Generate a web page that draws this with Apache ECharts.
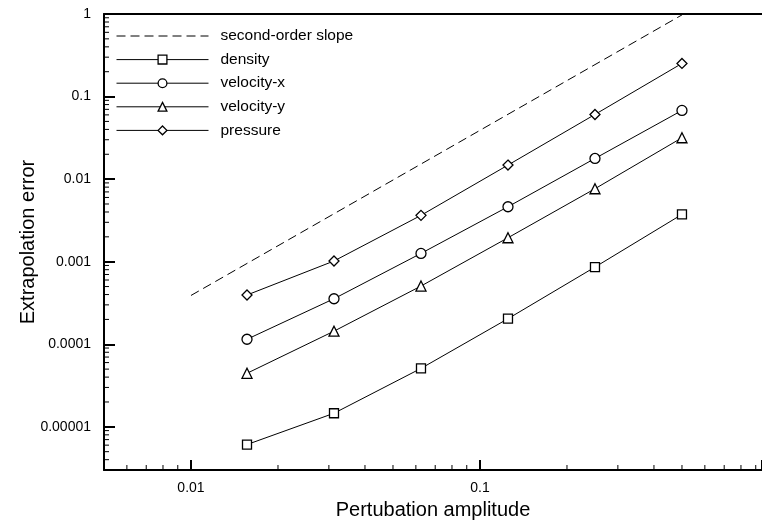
<!DOCTYPE html>
<html>
<head>
<meta charset="utf-8">
<script src="https://cdn.jsdelivr.net/npm/echarts@6/dist/echarts.min.js"></script>
<style>html,body{margin:0;padding:0;background:#fff;}#c{width:762px;height:524px;}</style>
</head>
<body>
<div id="c"></div>
<script>
// ---- data ----
var amplitudes = [0.015625, 0.03125, 0.0625, 0.125, 0.25, 0.5];
var density   = [6.1e-6, 1.46e-5, 5.1e-5, 2.04e-4, 8.6e-4, 3.74e-3];
var velocityX = [1.15e-4, 3.56e-4, 1.26e-3, 4.63e-3, 0.0178, 0.0679];
var velocityY = [4.45e-5, 1.44e-4, 5.07e-4, 1.95e-3, 7.65e-3, 0.0317];
var pressure  = [3.95e-4, 1.02e-3, 3.64e-3, 0.0148, 0.0607, 0.252];
var slopeX = [0.01, 0.5];
var slopeY = [0.00039, 0.975];
var xTickLabels = {'-2': '0.01', '-1': '0.1'};
var yTickLabels = {'-5': '0.00001', '-4': '0.0001', '-3': '0.001', '-2': '0.01', '-1': '0.1', '0': '1'};
var seriesNames = ['second-order slope', 'density', 'velocity-x', 'velocity-y', 'pressure'];

var X_MIN = 0.005, X_MAX = 0.946, Y_MIN = 3e-6, Y_MAX = 1;

function pairs(xs, ys) { return xs.map(function (x, i) { return [x, ys[i]]; }); }
function fmt(map) {
  return function (v) {
    var l = Math.log10(v), e = Math.round(l);
    if (Math.abs(l - e) > 1e-6) return '';
    return map[String(e)] || '';
  };
}
// minor tick positions (2..9 of each decade)
var xMinor = [], yMinor = [];
for (var e = -3; e <= 0; e++) for (var m = 2; m <= 9; m++) {
  var v = m * Math.pow(10, e);
  if (v > X_MIN && v < X_MAX) xMinor.push([v, Y_MIN]);
}
for (var e2 = -6; e2 <= 0; e2++) for (var m2 = 2; m2 <= 9; m2++) {
  var v2 = m2 * Math.pow(10, e2);
  if (v2 > Y_MIN && v2 < Y_MAX) yMinor.push([X_MIN, v2]);
}

var FONT = 'Liberation Sans, Arial, Helvetica, sans-serif';
var mk = function (name, data, symbol, size) {
  return {
    name: name, type: 'line', data: pairs(amplitudes, data),
    symbol: symbol, symbolSize: size, showSymbol: true,
    lineStyle: {color: '#000', width: 1},
    itemStyle: {color: '#fff', borderColor: '#000', borderWidth: 1.3},
    emphasis: {disabled: true}, z: 3
  };
};

var chart = echarts.init(document.getElementById('c'), null, {renderer: 'canvas'});
chart.setOption({
  animation: false,
  backgroundColor: '#fff',
  grid: {left: 104, right: 0, top: 14, bottom: 54, outerBoundsMode: 'none', containLabel: false},
  legend: {
    left: 116, top: 28, orient: 'vertical', padding: 0,
    itemWidth: 92, itemHeight: 11, itemGap: 7.6,
    data: [
      {name: seriesNames[0], itemStyle: {opacity: 0}},
      seriesNames[1], seriesNames[2], seriesNames[3], seriesNames[4]
    ],
    lineStyle: {width: 1},
    itemStyle: {borderWidth: 1.3},
    textStyle: {fontFamily: FONT, fontSize: 15.5, color: '#000', lineHeight: 12, padding: [0, 0, 0, 7]}
  },
  xAxis: [{
    type: 'log', min: X_MIN, max: X_MAX, logBase: 10,
    name: 'Pertubation amplitude', nameLocation: 'middle', nameGap: 30,
    nameTextStyle: {fontFamily: FONT, fontSize: 20, color: '#000'},
    axisLine: {show: true, lineStyle: {color: '#000', width: 2}},
    axisTick: {show: true, inside: true, length: 10, lineStyle: {color: '#000', width: 2}},
    axisLabel: {formatter: fmt(xTickLabels), fontFamily: FONT, fontSize: 14, color: '#000', margin: 11},
    splitLine: {show: false}, minorTick: {show: false}
  }, {
    type: 'log', min: X_MIN, max: X_MAX, position: 'top',
    axisLine: {show: true, lineStyle: {color: '#000', width: 2}},
    axisTick: {show: false}, axisLabel: {show: false}, splitLine: {show: false}
  }],
  yAxis: {
    type: 'log', min: Y_MIN, max: Y_MAX, logBase: 10,
    name: 'Extrapolation error', nameLocation: 'middle', nameGap: 66, nameMoveOverlap: false,
    nameTextStyle: {fontFamily: FONT, fontSize: 20, color: '#000'},
    axisLine: {show: true, lineStyle: {color: '#000', width: 2}},
    axisTick: {show: true, inside: true, length: 11, lineStyle: {color: '#000', width: 2}},
    axisLabel: {formatter: fmt(yTickLabels), fontFamily: FONT, fontSize: 14, color: '#000', margin: 13},
    splitLine: {show: false}
  },
  series: [
    {
      name: seriesNames[0], type: 'line', data: pairs(slopeX, slopeY),
      symbol: 'none', lineStyle: {color: '#000', width: 1, type: [9, 5]},
      itemStyle: {color: '#000'}, emphasis: {disabled: true}, z: 2
    },
    mk(seriesNames[1], density, 'rect', 9),
    mk(seriesNames[2], velocityX, 'circle', 10),
    mk(seriesNames[3], velocityY, 'triangle', 10),
    mk(seriesNames[4], pressure, 'diamond', 10),
    {
      type: 'custom', data: xMinor, silent: true, z: 5,
      renderItem: function (params, api) {
        var p = api.coord([api.value(0), api.value(1)]);
        return {type: 'line', shape: {x1: p[0], y1: p[1], x2: p[0], y2: p[1] - 5},
                style: {stroke: '#000', lineWidth: 1}};
      }
    },
    {
      type: 'custom', data: yMinor, silent: true, z: 5,
      renderItem: function (params, api) {
        var p = api.coord([api.value(0), api.value(1)]);
        return {type: 'line', shape: {x1: p[0], y1: p[1], x2: p[0] + 5, y2: p[1]},
                style: {stroke: '#000', lineWidth: 1}};
      }
    }
  ]
});
</script>
</body>
</html>
